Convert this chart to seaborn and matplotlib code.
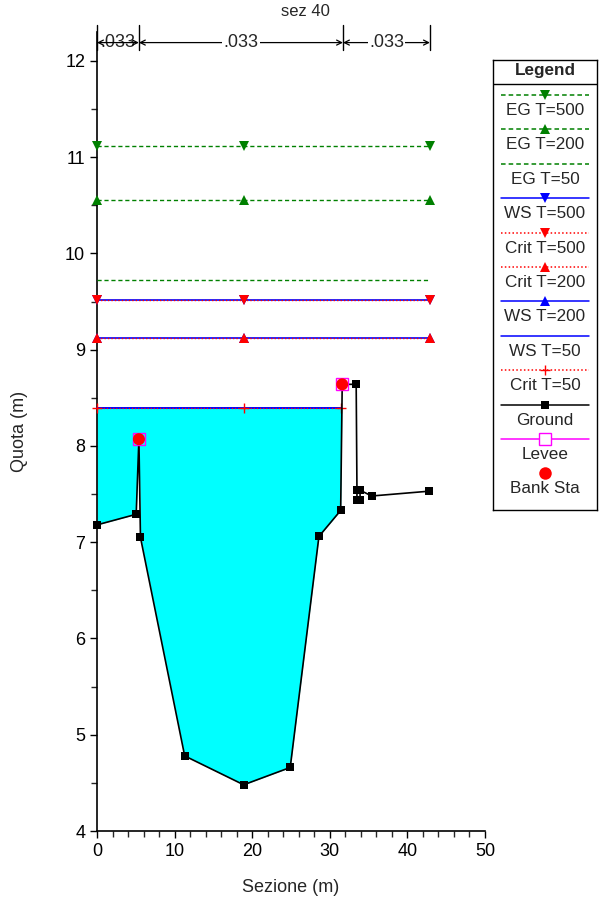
import numpy as np
import pandas as pd
import seaborn as sns
import matplotlib
matplotlib.use("Agg")
import matplotlib.pyplot as plt
from matplotlib.lines import Line2D

# ---------------- data ----------------
title = "sez 40"
xlabel = "Sezione (m)"
ylabel = "Quota (m)"

ground_x = [0.0, 5.05, 5.4, 5.6, 11.3, 18.9, 24.9, 28.6, 31.4, 31.6, 33.4, 33.5, 33.5, 33.9, 33.9, 35.4, 42.8]
ground_y = [7.18, 7.29, 8.07, 7.05, 4.78, 4.48, 4.66, 7.06, 7.33, 8.64, 8.64, 7.54, 7.44, 7.44, 7.54, 7.48, 7.53]

levee_x = [5.4, 31.6]
levee_y = [8.07, 8.64]
bank_x = [5.4, 31.6]
bank_y = [8.07, 8.64]

full_x = [0.0, 18.9, 42.9]          # stations of full-width profiles
ws50_x = [0.0, 18.9, 31.5]          # stations of T=50 water surface
eg500 = 11.12
eg200 = 10.55
eg50 = 9.72
ws500 = 9.52
crit500 = 9.52
crit200 = 9.12
ws200 = 9.12
ws50 = 8.39
crit50 = 8.39

n_bounds = [0.0, 5.4, 31.7, 42.9]
n_values = [".033", ".033", ".033"]

legend_labels = ["EG T=500", "EG T=200", "EG T=50", "WS T=500", "Crit T=500",
                 "Crit T=200", "WS T=200", "WS T=50", "Crit T=50", "Ground",
                 "Levee", "Bank Sta"]

# ---------------- style ----------------
sns.set_style("ticks")
plt.rcParams['font.family'] = ['Liberation Sans', 'DejaVu Sans']

GREEN = "#008000"
BLUE = "#0000FF"
RED = "#FF0000"
MAG = "#FF00FF"
CYAN = "#00FFFF"
DASH = (0, (3, 2))
DOT = (0, (1, 1.5))
FS = 13

fig = plt.figure(figsize=(6.02, 8.99), dpi=100)
ax = fig.add_axes([97 / 602, 68 / 899, 388 / 602, 799 / 899])

# water fill (T=50)
gx = np.array(ground_x)
gy = np.array(ground_y)
mask = gx <= ws50_x[-1] + 0.1
ax.fill_between(gx[mask], gy[mask], ws50, where=gy[mask] <= ws50,
                interpolate=True, color=CYAN, lw=0, zorder=1)

def hline(xs, level, color, ls, marker=None, ms=7, lw=1.0, z=3):
    df = pd.DataFrame({"x": xs, "y": [level] * len(xs)})
    sns.lineplot(data=df, x="x", y="y", ax=ax, color=color, linestyle=ls,
                 marker=marker, markersize=ms, markeredgewidth=0,
                 markeredgecolor=color, linewidth=lw, sort=False,
                 estimator=None, zorder=z, clip_on=False)

hline(full_x, eg500, GREEN, DASH, "v")
hline(full_x, eg200, GREEN, DASH, "^")
hline([full_x[0], full_x[-1]], eg50, GREEN, DASH, None)
hline(full_x, ws500, BLUE, "-", "v", lw=1.2)
hline(full_x, ws200, BLUE, "-", "^", lw=1.2)
hline([ws50_x[0], ws50_x[-1]], ws50, BLUE, "-", None, lw=1.4)
hline(full_x, crit500, RED, DOT, "v", z=4)
hline(full_x, crit200, RED, DOT, "^", z=4)
df50 = pd.DataFrame({"x": ws50_x, "y": [crit50] * 3})
sns.lineplot(data=df50, x="x", y="y", ax=ax, color=RED, linestyle=DOT,
             marker="+", markersize=7, markeredgewidth=1.0,
             markeredgecolor=RED, linewidth=0.9, sort=False, estimator=None,
             zorder=4, clip_on=False)

# ground
gdf = pd.DataFrame({"x": ground_x, "y": ground_y})
sns.lineplot(data=gdf, x="x", y="y", ax=ax, color="black", linewidth=1.2,
             marker="s", markersize=5.5, markeredgewidth=0, sort=False,
             estimator=None, zorder=5, clip_on=False)

# levee and bank stations
ax.plot(levee_x, levee_y, linestyle="none", marker="s", markersize=8.5,
        markerfacecolor="none", markeredgecolor=MAG, markeredgewidth=1.0, zorder=6)
sns.scatterplot(x=bank_x, y=bank_y, ax=ax, color=RED, s=75, edgecolor="none",
                zorder=7)

# axes
ax.set_xlim(0, 50)
ax.set_ylim(4, 12.3)
ax.set_xticks(np.arange(0, 51, 10))
ax.set_xticks(np.arange(0, 51, 2), minor=True)
ax.set_yticks(np.arange(4, 13, 1))
ax.set_yticks(np.arange(4, 12.3, 0.5), minor=True)
ax.tick_params(axis="both", which="major", labelsize=FS, length=5, width=1,
               direction="out", color="black", labelcolor="black")
ax.tick_params(axis="both", which="minor", length=4, width=1, direction="out")
for s in ["top", "right"]:
    ax.spines[s].set_visible(False)
for s in ["left", "bottom"]:
    ax.spines[s].set_color("black")
    ax.spines[s].set_linewidth(1.2)
ax.set_xlabel(xlabel, fontsize=FS)
ax.set_ylabel(ylabel, fontsize=FS)
ax.xaxis.set_label_coords(0.5, -0.06)
ax.yaxis.set_label_coords(-0.178, 0.5)

# n-value annotation bar
y_arrow = 12.19
for xb in n_bounds:
    ax.add_line(Line2D([xb, xb], [12.11, 12.37], color="black", lw=1.0,
                       clip_on=False, zorder=8))
for i, nv in enumerate(n_values):
    a, b = n_bounds[i], n_bounds[i + 1]
    narrow = (b - a) < 8
    ax.annotate("", xy=(a, y_arrow), xytext=(b, y_arrow),
                arrowprops=dict(arrowstyle="<->", color="black", lw=0.9,
                                shrinkA=0, shrinkB=0, mutation_scale=9),
                annotation_clip=False, zorder=10 if narrow else 8)
    ax.text((a + b) / 2, y_arrow, nv, ha="center", va="center", fontsize=FS,
            bbox=dict(facecolor="white", edgecolor="none", pad=1.0),
            clip_on=False, zorder=9)

fig.text(305 / 602, 1 - 12 / 899, title, ha="center", va="center", fontsize=12)

# ---------------- legend box ----------------
lg = fig.add_axes([493 / 602, 1 - 510 / 899, 104 / 602, 450 / 899])
lg.set_xlim(0, 104)
lg.set_ylim(450, 0)
lg.set_xticks([])
lg.set_yticks([])
for s in lg.spines.values():
    s.set_color("black")
    s.set_linewidth(1.0)
lg.text(52, 11, "Legend", ha="center", va="center", fontsize=12.3, weight="bold")
lg.axhline(24, color="black", lw=1.0)

styles = [
    dict(color=GREEN, ls=DASH, marker="v", ms=7),
    dict(color=GREEN, ls=DASH, marker="^", ms=7),
    dict(color=GREEN, ls=DASH, marker=None, ms=0),
    dict(color=BLUE, ls="-", marker="v", ms=7),
    dict(color=RED, ls=DOT, marker="v", ms=7),
    dict(color=RED, ls=DOT, marker="^", ms=7),
    dict(color=BLUE, ls="-", marker="^", ms=7),
    dict(color=BLUE, ls="-", marker=None, ms=0),
    dict(color=RED, ls=DOT, marker="+", ms=7),
    dict(color="black", ls="-", marker="s", ms=5.5),
    dict(color=MAG, ls="-", marker="s", ms=9),
    dict(color=RED, ls="none", marker="o", ms=9),
]
for i, (lab, st) in enumerate(zip(legend_labels, styles)):
    yl = 35 + i * 34.4
    if st["ls"] != "none":
        lg.plot([8, 96], [yl, yl], color=st["color"], linestyle=st["ls"],
                lw=1.1)
    if st["marker"] is not None:
        if lab == "Levee":
            lg.plot([52], [yl], marker="s", ms=st["ms"], markerfacecolor="white",
                    markeredgecolor=MAG, markeredgewidth=1.0, ls="none")
        else:
            lg.plot([52], [yl], marker=st["marker"], ms=st["ms"],
                    color=st["color"], markeredgewidth=1.0 if st["marker"] == "+" else 0,
                    ls="none")
    lg.text(52, yl + 15.5, lab, ha="center", va="center", fontsize=12.3)

fig.savefig("out.png", dpi=100)
